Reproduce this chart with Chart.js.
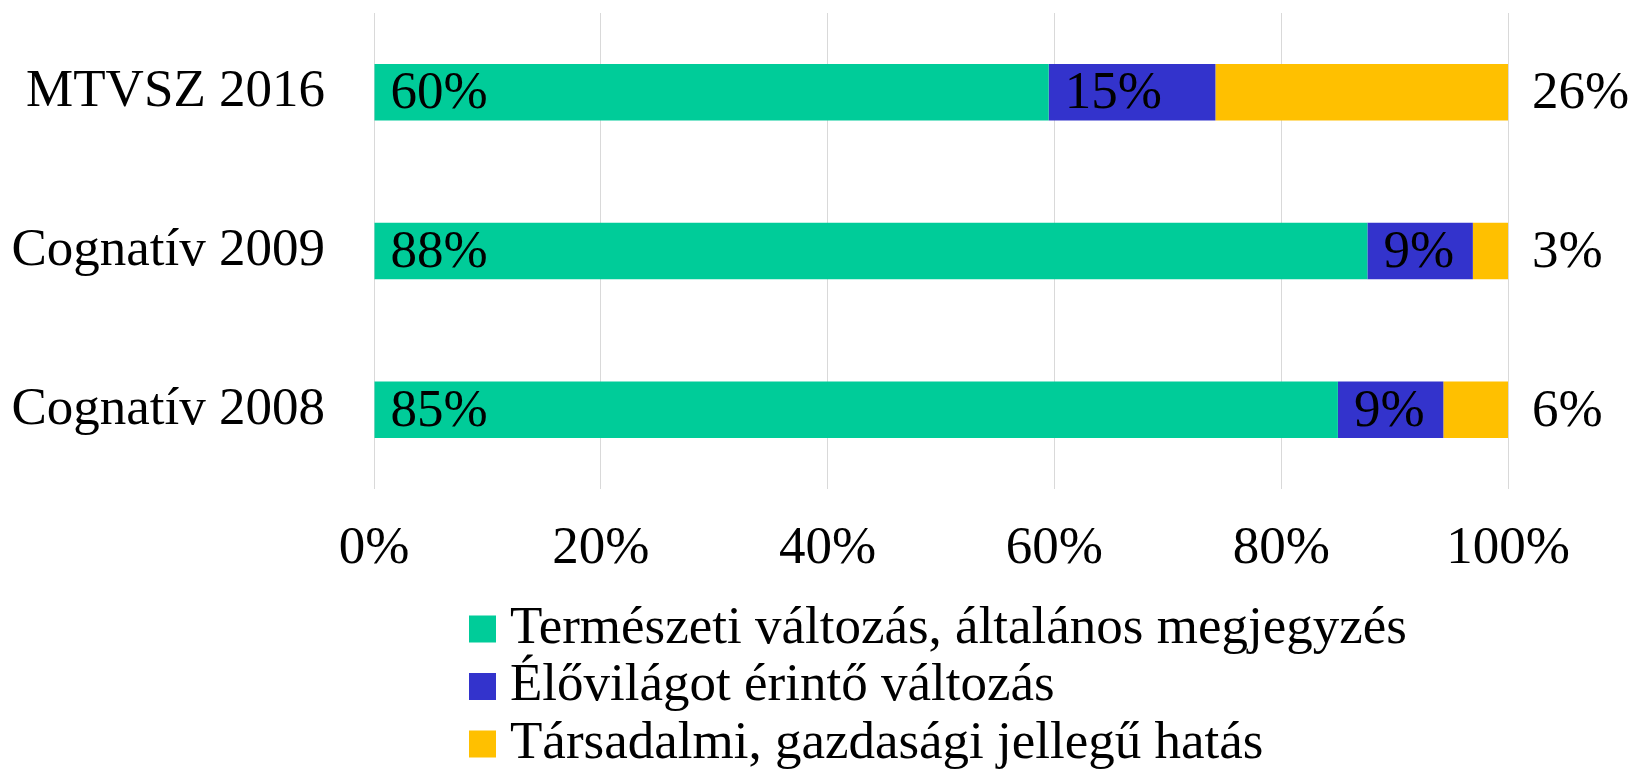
<!DOCTYPE html>
<html>
<head>
<meta charset="utf-8">
<script src="https://cdn.jsdelivr.net/npm/chart.js@4"></script>
<style>
  html, body { margin: 0; padding: 0; background: #fff; }
  #wrap { width: 1643px; height: 769px; position: relative; }
</style>
</head>
<body>
<div id="wrap"><canvas id="chart"></canvas></div>
<script>
// survey sources (top to bottom)
const categories = ['MTVSZ 2016', 'Cognatív 2009', 'Cognatív 2008'];

// share of answers, percent
const termeszeti = [59.5, 87.6, 85.0];
const elovilag = [14.7, 9.3, 9.3];
const tarsadalmi = [25.8, 3.1, 5.7];

const seriesNames = [
    'Természeti változás, általános megjegyzés',
    'Élővilágot érintő változás',
    'Társadalmi, gazdasági jellegű hatás'
];
const seriesColors = ['#00CC99', '#3333CC', '#FFC000'];
const xTicks = [0, 20, 40, 60, 80, 100];

const FONT = "'Liberation Serif', 'Times New Roman', serif";
const FS = 53;

// value labels: first two inside the bar start, last one outside the bar end
const valueLabels = {
    id: 'valueLabels',
    afterDatasetsDraw(chart) {
        const ctx = chart.ctx;
        ctx.save();
        ctx.font = FS + 'px ' + FONT;
        ctx.fillStyle = '#000';
        ctx.textBaseline = 'middle';
        ctx.textAlign = 'left';
        chart.data.datasets.forEach((ds, di) => {
            chart.getDatasetMeta(di).data.forEach((bar, i) => {
                const txt = Math.round(ds.data[i]) + '%';
                const x = di < 2 ? bar.base + 16 : bar.x + 24;
                ctx.fillText(txt, x, bar.y + 2);
            });
        });
        ctx.restore();
    }
};

// legend as a left-aligned column under the axis
const columnLegend = {
    id: 'columnLegend',
    afterDraw(chart) {
        const ctx = chart.ctx;
        const left = chart.chartArea.left + 95;
        ctx.save();
        ctx.font = FS + 'px ' + FONT;
        ctx.textBaseline = 'middle';
        ctx.textAlign = 'left';
        chart.data.datasets.forEach((ds, i) => {
            const y = chart.chartArea.bottom + 140 + i * 57.5;
            ctx.fillStyle = ds.backgroundColor;
            ctx.fillRect(left, y - 13.5, 27, 27);
            ctx.fillStyle = '#000';
            ctx.fillText(ds.label, left + 41, y);
        });
        ctx.restore();
    }
};

const datasets = [termeszeti, elovilag, tarsadalmi].map((d, i) => ({
    label: seriesNames[i],
    data: d,
    backgroundColor: seriesColors[i],
    borderWidth: 0,
    barPercentage: 0.356,
    categoryPercentage: 1
}));

new Chart(document.getElementById('chart'), {
    type: 'bar',
    data: { labels: categories, datasets: datasets },
    options: {
        indexAxis: 'y',
        responsive: true,
        maintainAspectRatio: false,
        animation: false,
        layout: { padding: { top: 13, right: 135, bottom: 180, left: 0 } },
        plugins: {
            legend: { display: false },
            tooltip: { enabled: false }
        },
        scales: {
            x: {
                stacked: true,
                min: 0,
                max: 100,
                afterBuildTicks: (scale) => { scale.ticks = xTicks.map(v => ({ value: v })); },
                afterFit: (scale) => { scale.height = 100; },
                grid: { color: '#d9d9d9', lineWidth: 1, drawTicks: false },
                border: { display: false },
                ticks: {
                    padding: 28,
                    color: '#000',
                    font: { family: FONT, size: FS },
                    callback: (v) => v + '%'
                }
            },
            y: {
                stacked: true,
                afterFit: (scale) => {
                    scale.width = 374;
                    scale.paddingTop = 0;
                    scale.paddingBottom = 0;
                },
                grid: { display: false, drawTicks: false },
                border: { display: false },
                ticks: {
                    padding: 49,
                    color: '#000',
                    font: { family: FONT, size: FS }
                }
            }
        }
    },
    plugins: [valueLabels, columnLegend]
});
</script>
</body>
</html>
